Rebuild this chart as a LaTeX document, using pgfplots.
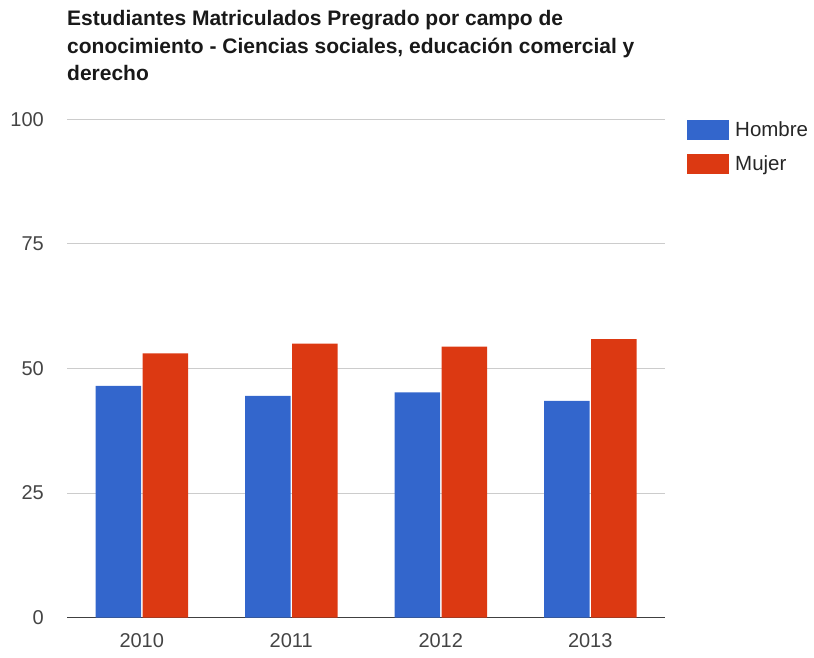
\documentclass[border=0pt]{standalone}
\usepackage{pgfplots}
\pgfplotsset{compat=1.18}
\usepackage{fontspec}
\setmainfont{Liberation Sans}
\definecolor{hombre}{HTML}{3366CC}
\definecolor{mujer}{HTML}{DC3912}
\definecolor{txt}{HTML}{444444}
\definecolor{gridc}{HTML}{CCCCCC}
\begin{document}
\begin{tikzpicture}
\useasboundingbox (0pt,0pt) rectangle (814pt,657pt);
\node[anchor=base west, align=left, inner sep=0pt, text=black!90,
      font=\bfseries\fontsize{21}{27.5}\selectfont] at (67pt,576pt)
  {Estudiantes Matriculados Pregrado por campo de\\conocimiento - Ciencias sociales, educación comercial y\\derecho};
\begin{axis}[
  at={(67pt,39.3pt)}, anchor=south west,
  scale only axis, width=598pt, height=498.4pt,
  xmin=-0.5, xmax=3.5, ymin=0, ymax=100,
  ybar=1.5pt, bar width=45.5pt,
  axis line style={draw=none},
  xtick={0,1,2,3}, xticklabels={2010,2011,2012,2013},
  ytick={25,50,75,100},
  extra y ticks={0},
  extra y tick style={grid style={draw=black!75, line width=1.3pt}},
  ymajorgrids, grid style={draw=gridc, line width=1pt},
  major tick length=0pt,
  tick style={draw=none},
  /pgf/number format/assume math mode=true,
  tick label style={font=\fontsize{20}{24}\selectfont, text=txt},
  yticklabel style={inner sep=0pt, xshift=-23pt},
  xticklabel style={inner sep=0pt, yshift=-15.6pt},
  legend style={at={(rel axis cs:1,1)}, anchor=north west, xshift=22pt,
    draw=none, fill=none, inner sep=0pt, row sep=13.5pt,
    font=\fontsize{20.5}{24}\selectfont, text=black!85},
  legend cell align=left,
  legend image code/.code={\fill[#1] (0pt,-10pt) rectangle (42pt,10pt); \path (46pt,0pt);},
]
\addplot[fill=hombre, draw=none] coordinates {(0,46.5) (1,44.5) (2,45.2) (3,43.5)};
\addplot[fill=mujer, draw=none] coordinates {(0,53.05) (1,55.0) (2,54.4) (3,55.9)};
\legend{Hombre, Mujer}
\end{axis}
\end{tikzpicture}
\end{document}
